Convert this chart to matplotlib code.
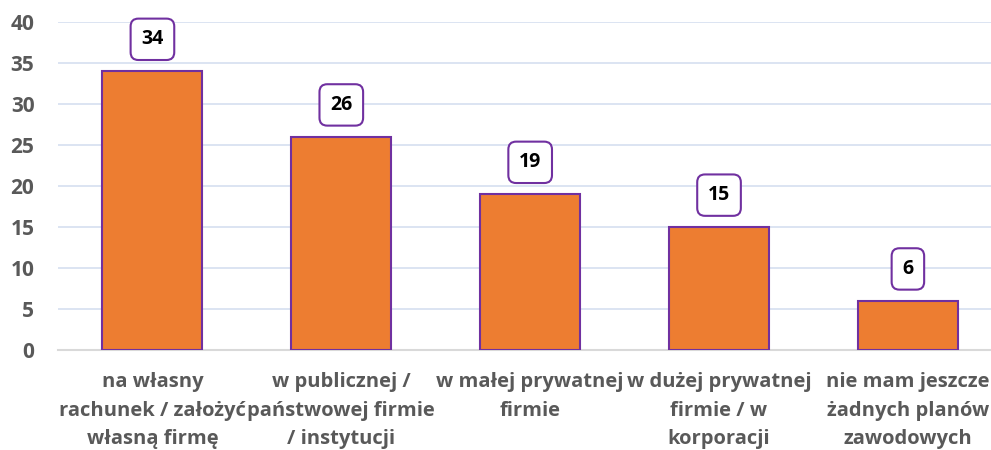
import matplotlib.pyplot as plt

# data
categories = ['na własny\nrachunek / założyć\nwłasną firmę',
              'w publicznej /\npaństwowej firmie\n/ instytucji',
              'w małej prywatnej\nfirmie',
              'w dużej prywatnej\nfirmie / w\nkorporacji',
              'nie mam jeszcze\nżadnych planów\nzawodowych']
values = [34, 26, 19, 15, 6]
yticks = [0, 5, 10, 15, 20, 25, 30, 35, 40]

plt.rcParams['font.family'] = ['Open Sans', 'DejaVu Sans']

fig = plt.figure(figsize=(9.91, 4.5), dpi=100)
ax = fig.add_axes([58 / 991, 0.222, 1 - 58 / 991, 0.729])

x = range(len(values))
ax.bar(x, values, width=0.53, color='#ED7D31', edgecolor='#7030A0', linewidth=1.5, zorder=3)

# value labels in rounded boxes
for xi, v in zip(x, values):
    ax.annotate(str(v), (xi, v), xytext=(0, 23), textcoords='offset points',
                ha='center', va='center', fontsize=14, fontweight='bold', color='black',
                bbox=dict(boxstyle='round,pad=0.55,rounding_size=0.4', fc='white',
                          ec='#7030A0', lw=1.5), zorder=4)

ax.set_ylim(0, 40)
ax.set_xlim(-0.5, 4.44)
ax.set_yticks(yticks)
ax.set_xticks(list(x))
ax.set_xticklabels(categories, fontsize=14.5, fontweight='bold', color='#595959', linespacing=1.55)
for lab in ax.get_yticklabels():
    lab.set_fontsize(15)
    lab.set_fontweight('bold')
    lab.set_color('#595959')

ax.grid(axis='y', color='#D6DFF0', linewidth=1.2, zorder=0)
for s in ['top', 'right', 'left']:
    ax.spines[s].set_visible(False)
ax.spines['bottom'].set_color('#D9D9D9')
ax.spines['bottom'].set_linewidth(1.5)
ax.tick_params(axis='y', length=0, pad=17)
ax.tick_params(axis='x', length=0, pad=16)

fig.savefig('out.png', dpi=100)
